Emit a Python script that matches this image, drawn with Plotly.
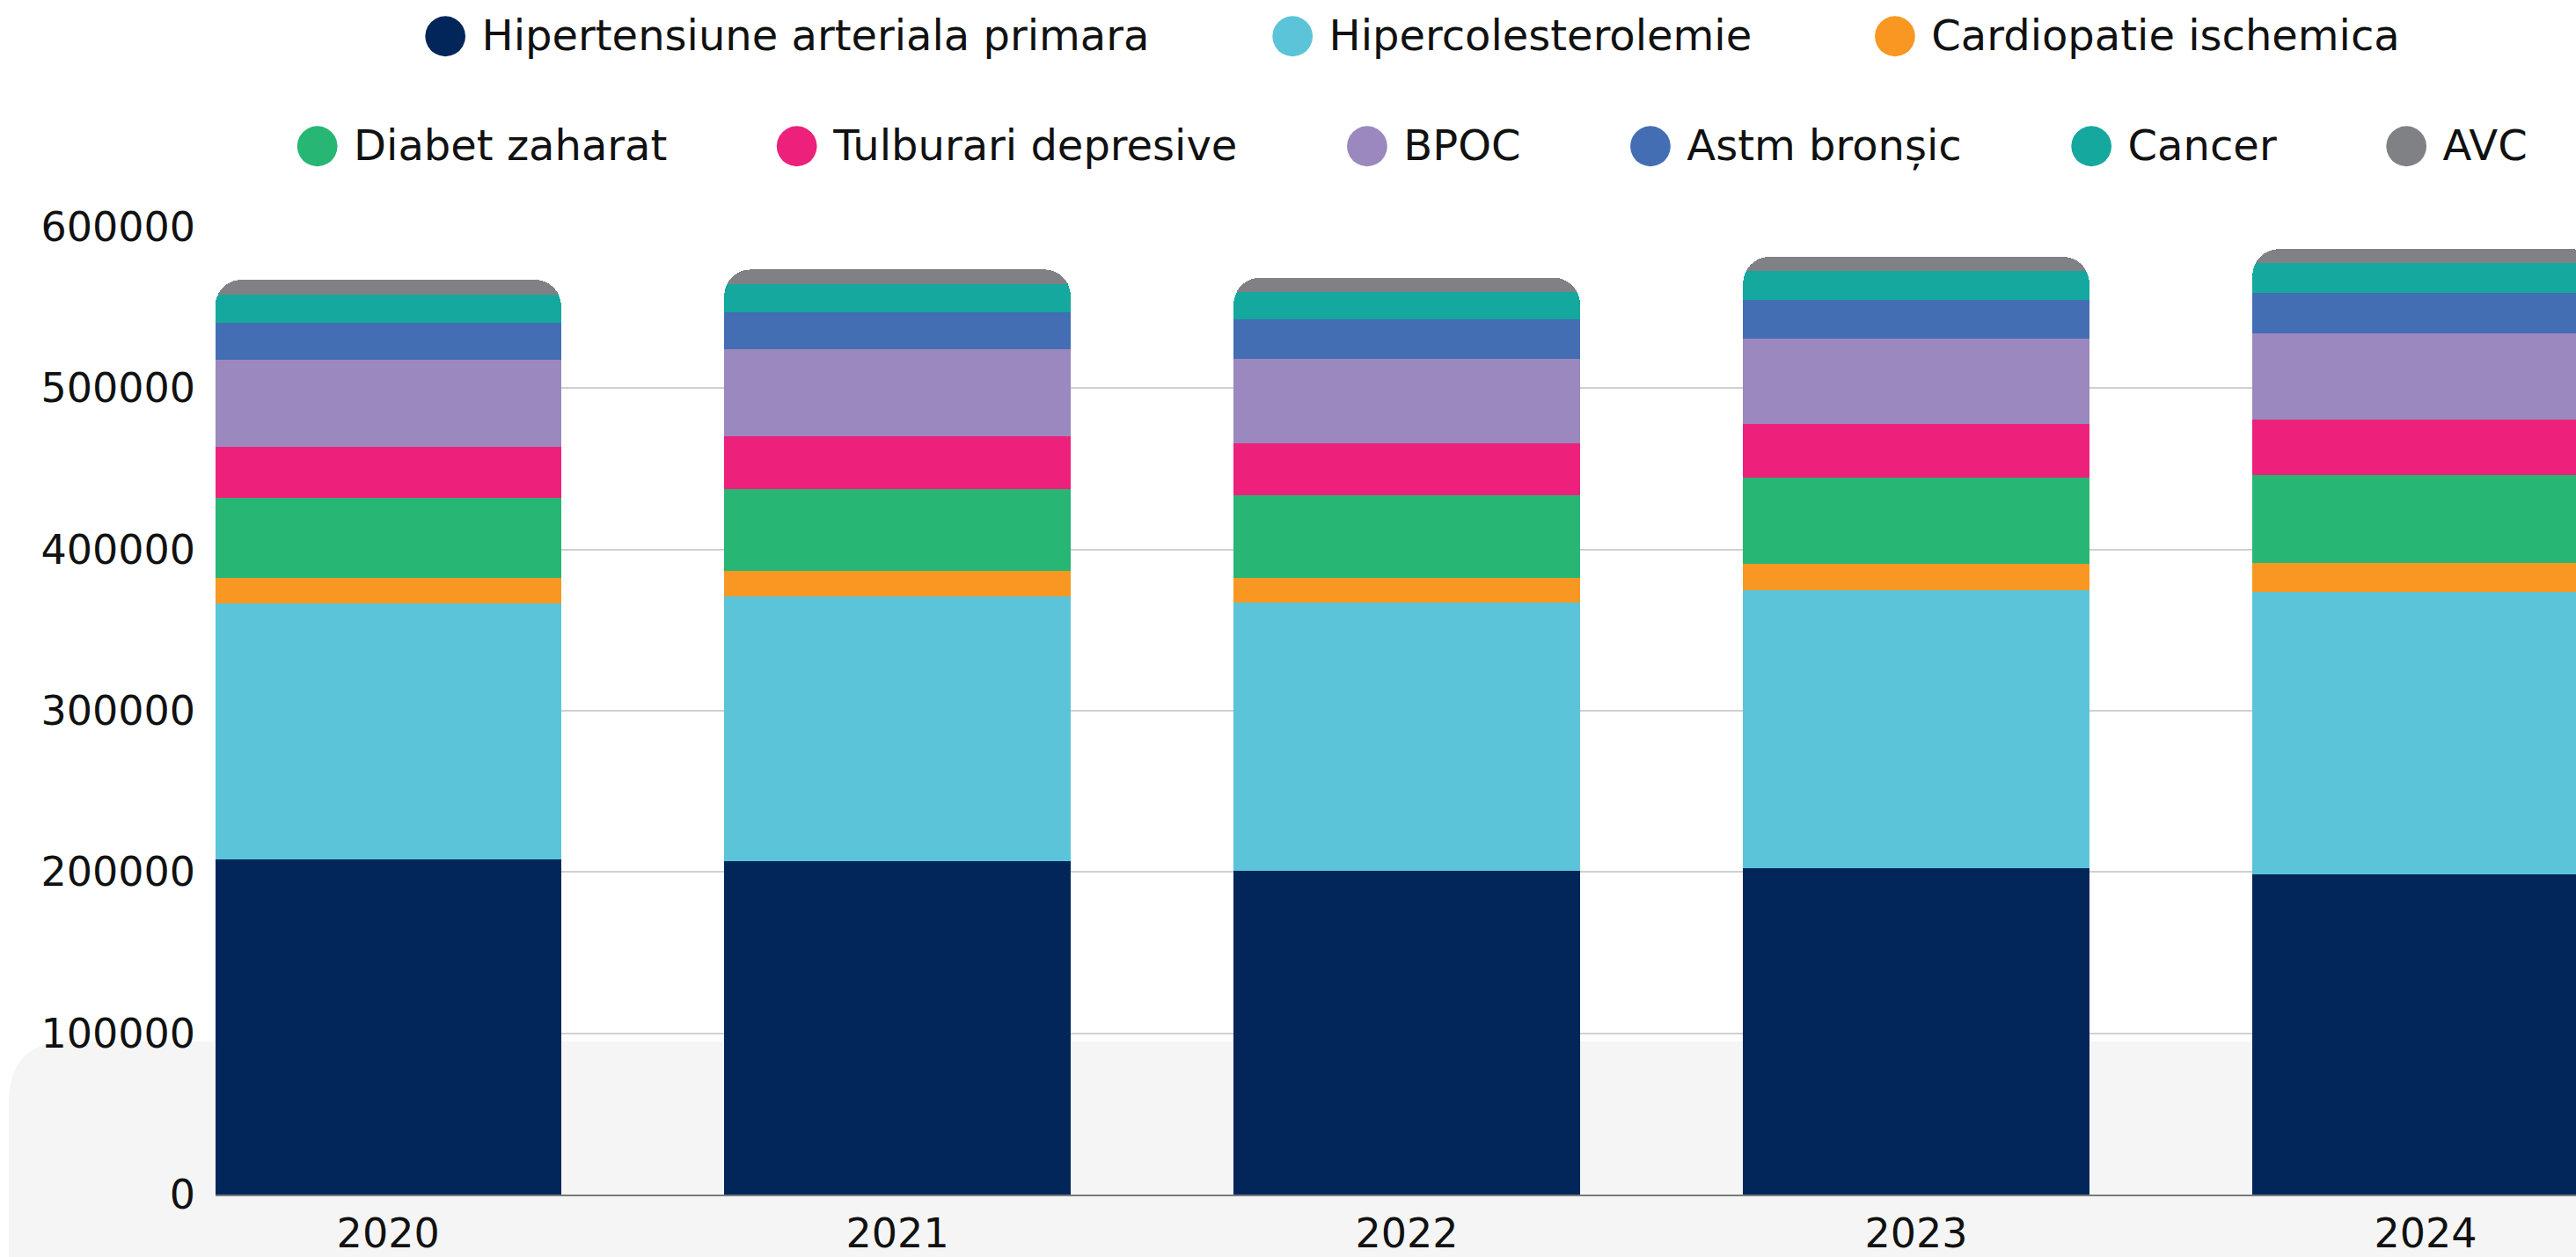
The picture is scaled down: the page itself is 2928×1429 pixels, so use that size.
import plotly.graph_objects as go

years = ['2020', '2021', '2022', '2023', '2024']

hipertensiune = [207700, 207000, 201000, 202200, 198800]
hipercolesterolemie = [158700, 163700, 165900, 172500, 175100]
cardiopatie = [16000, 16000, 15300, 16400, 17600]
diabet = [49500, 50600, 51300, 53500, 54600]
tulburari = [31600, 32800, 32200, 33300, 34400]
bpoc = [54100, 54200, 52400, 52800, 53500]
astm = [23100, 22700, 24600, 24000, 25100]
cancer = [17300, 17700, 16900, 18000, 18500]
avc = [9200, 8900, 8900, 8700, 8600]

series = [
    ('Hipertensiune arteriala primara', hipertensiune, '#03265A', 'legend'),
    ('Hipercolesterolemie', hipercolesterolemie, '#5BC4D9', 'legend'),
    ('Cardiopatie ischemica', cardiopatie, '#F89822', 'legend'),
    ('Diabet zaharat', diabet, '#27B674', 'legend2'),
    ('Tulburari depresive', tulburari, '#ED217C', 'legend2'),
    ('BPOC', bpoc, '#9B88BE', 'legend2'),
    ('Astm bronșic', astm, '#436EB4', 'legend2'),
    ('Cancer', cancer, '#15A89E', 'legend2'),
    ('AVC', avc, '#808184', 'legend2'),
]
last_in_row = {'Cardiopatie ischemica', 'AVC'}

FONT = 'DejaVu Sans, sans-serif'
PADS = {'legend': '\u00a0' * 6, 'legend2': '\u00a0' * 5}

fig = go.Figure()

for name, values, color, legend in series:
    fig.add_trace(go.Bar(
        x=years,
        y=values,
        name=name,
        marker=dict(color=color, line=dict(width=0)),
        showlegend=False,
    ))

# legend entries with big round markers
for name, values, color, legend in series:
    pad = '' if name in last_in_row else PADS[legend]
    fig.add_trace(go.Scatter(
        x=[None],
        y=[None],
        mode='markers',
        marker=dict(size=1, color='rgba(0,0,0,0)'),
        name=f'<span style="color:{color};font-size:60px">●</span> {name}{pad}',
        legend=legend,
        hoverinfo='skip',
    ))

legend_style = dict(
    orientation='h',
    x=0.5,
    xanchor='center',
    yanchor='middle',
    traceorder='normal',
    font=dict(family=FONT, size=48, color='#111111'),
    itemwidth=30,
)

fig.update_layout(
    width=2928,
    height=1429,
    barmode='stack',
    bargap=0.32,
    barcornerradius=30,
    paper_bgcolor='white',
    plot_bgcolor='rgba(0,0,0,0)',
    margin=dict(l=245, r=0, t=258, b=71, autoexpand=False),
    font=dict(family=FONT, size=46, color='#111111'),
    legend=dict(legend_style, y=1.1996),
    legend2=dict(legend_style, y=1.0860),
    xaxis=dict(
        type='category',
        range=[-0.3388, 4.2953],
        showgrid=False,
        showline=True,
        linecolor='#7a7a7a',
        linewidth=2,
        ticks='',
        ticklabelstandoff=3,
        tickfont=dict(family=FONT, size=46, color='#111111'),
    ),
    yaxis=dict(
        range=[0, 600000],
        tickvals=[0, 100000, 200000, 300000, 400000, 500000, 600000],
        ticktext=['0', '100000', '200000', '300000', '400000', '500000', '600000'],
        showgrid=True,
        gridcolor='#d0d0d0',
        gridwidth=2,
        zeroline=False,
        ticks='',
        ticklabelstandoff=22,
        tickfont=dict(family=FONT, size=46, color='#111111'),
    ),
    shapes=[
        dict(
            type='path',
            xref='paper',
            yref='paper',
            layer='below',
            path='M -0.0876,-0.2 L -0.0876,0.095 Q -0.0876,0.1584 -0.0615,0.1584 L 1.1,0.1584 L 1.1,-0.2 Z',
            fillcolor='#f5f5f5',
            line=dict(width=0),
        )
    ],
)

fig.write_html(
    'out.html',
    config=dict(displayModeBar=False),
    post_script="document.body.style.margin='0';",
)
